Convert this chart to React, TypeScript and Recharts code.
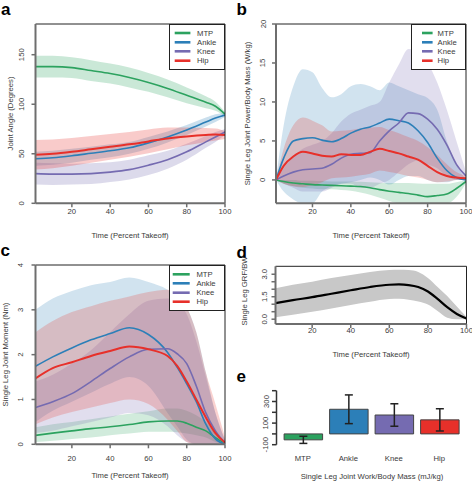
import React from 'react';
import {
  ComposedChart, Area, Line, XAxis, YAxis, ReferenceLine, Legend,
  BarChart, Bar, Cell, ErrorBar,
} from 'recharts';

const FONT = '"Liberation Sans", Arial, Helvetica, sans-serif';
const AXIS = '#6e6e6e';
const BOX = '#222';
const TXT = '#3a3a3a';

const jointNames = ['MTP', 'Ankle', 'Knee', 'Hip'];
const jointColors = ['#2ca25f', '#2c7fb8', '#756bb1', '#e7302a'];
const xTicks = [20, 40, 60, 80, 100];

// ---- Panel a: joint angle (degrees) ----
const angleX = [1, 10, 20, 30, 40, 50, 60, 70, 80, 90, 95, 100];
const angleMtp = [138, 138, 137, 134, 131, 127, 122, 116, 109, 102, 98, 90];
const angleMtpSd = [11, 11, 10.5, 10.5, 10, 10, 9.5, 9, 8, 6, 4.5, 2];
const angleAnkle = [45, 46, 48, 50.5, 53, 56, 61, 67, 74, 82, 86, 89];
const angleAnkleSd = [7, 7, 7, 6.5, 6.5, 6, 6, 5.5, 5, 4.5, 4, 2];
const angleKnee = [30, 29.5, 29.5, 30, 31.5, 34, 38.5, 44, 52, 62, 67, 72];
const angleKneeSd = [11, 11, 10.5, 10.5, 10, 10, 10, 9, 8, 6, 5, 3];
const angleHip = [49, 50, 52, 54.5, 57, 59.5, 62.5, 65.5, 67.5, 69, 69.5, 69];
const angleHipSd = [15, 14.5, 14, 13.5, 13, 12.5, 12, 11, 9, 7, 6, 4];

// ---- Panel b: joint power / body mass (W/kg) ----
const powX = [1, 5, 10, 15, 20, 25, 30, 35, 40, 45, 50, 55, 60, 65, 70, 75, 80, 85, 90, 95, 100];
const powMtp = [0, -0.2, -0.4, -0.5, -0.6, -0.65, -0.7, -0.75, -0.8, -0.85, -1.0, -1.25, -1.45, -1.6, -1.75, -1.95, -2.15, -2.0, -1.8, -1.1, -0.2];
const powMtpLo = [0, -0.5, -0.8, -1.0, -1.1, -1.2, -1.2, -1.3, -1.4, -1.6, -1.9, -2.3, -2.7, -3, -3, -3, -3, -3, -3, -2.2, -0.4];
const powMtpHi = [0, 0, 0, -0.1, -0.1, -0.15, -0.2, -0.2, -0.2, -0.25, -0.3, -0.35, -0.4, -0.4, -0.4, -0.45, -0.5, -0.5, -0.5, -0.3, 0];
const powAnkle = [0, 2.8, 5.0, 5.3, 5.4, 5.1, 4.9, 5.3, 6.0, 6.5, 6.8, 7.3, 7.8, 7.6, 7.3, 6.3, 4.8, 2.8, 1.2, 0.3, 0];
const powAnkleLo = [0, -1.5, -2.5, -3, -3, -1.5, -0.8, -0.5, -0.3, 0, 0.3, 0, -0.6, 0, 0.5, 0.5, 0, -0.3, -0.3, 0, 0];
const powAnkleHi = [0, 7, 12, 14.2, 13.8, 11.8, 10.6, 11, 12, 12.3, 12, 11.5, 12.5, 12, 11.5, 11, 10.5, 9, 5, 2, 0];
const powKnee = [0, 0.5, 1.0, 1.3, 1.4, 1.5, 2.0, 2.8, 3.3, 3.4, 3.5, 5.0, 6.3, 7.3, 8.6, 8.5, 7.8, 6.5, 4.5, 2.0, 0.5];
const powKneeLo = [0, -0.5, -1, -1.5, -1.5, -1.5, -1, -0.5, -0.5, -1, -1, -0.5, 0, 1, 2, 2.5, 2, 1.5, 0.5, 0, 0];
const powKneeHi = [0, 1.5, 3, 4, 4.5, 5, 6, 7.5, 8.5, 9, 9.5, 10, 12.5, 14.8, 16.8, 16.5, 15, 12.5, 9, 5, 1];
const powHip = [0, 1.8, 3.0, 3.6, 3.4, 3.1, 3.0, 3.3, 3.2, 3.2, 3.6, 4.0, 3.7, 3.4, 3.0, 2.6, 1.8, 1.0, 0.5, 0.3, 0.2];
const powHipLo = [0, -0.5, -0.8, -0.9, -0.7, -0.3, 0.2, 0.3, 0.4, 0.6, 0.8, 1.2, 1, 0.8, 0.5, 0.3, 0, -0.3, -0.2, 0, 0];
const powHipHi = [0, 4, 7, 8, 7.6, 7, 6.2, 6.3, 6.4, 6.6, 6.7, 6.8, 6.4, 6, 5.5, 5, 4.2, 3.2, 2, 1, 0.5];

// ---- Panel c: joint moment (Nm) ----
const momX = [1, 10, 20, 30, 40, 50, 60, 70, 75, 80, 85, 90, 95, 100];
const momMtp = [0.2, 0.25, 0.3, 0.35, 0.39, 0.44, 0.5, 0.52, 0.52, 0.47, 0.38, 0.3, 0.15, 0.02];
const momMtpLo = [0.05, 0.08, 0.12, 0.15, 0.2, 0.24, 0.28, 0.28, 0.27, 0.24, 0.2, 0.15, 0.05, 0];
const momMtpHi = [0.38, 0.45, 0.5, 0.56, 0.62, 0.68, 0.74, 0.8, 0.8, 0.75, 0.65, 0.5, 0.3, 0.05];
const momAnkle = [1.74, 1.95, 2.15, 2.33, 2.47, 2.6, 2.45, 2.05, 1.72, 1.35, 0.95, 0.45, 0.12, 0];
const momAnkleLo = [0.5, 0.75, 0.95, 1.15, 1.35, 1.5, 1.3, 0.7, 0.4, 0.1, 0, 0, 0, 0];
const momAnkleHi = [3.0, 3.25, 3.42, 3.55, 3.62, 3.72, 3.62, 3.45, 3.3, 3.05, 2.5, 1.6, 0.7, 0.1];
const momKnee = [0.82, 0.95, 1.13, 1.4, 1.69, 1.95, 2.12, 2.13, 2.02, 1.8, 1.3, 0.7, 0.3, 0.03];
const momKneeLo = [0.25, 0.3, 0.4, 0.5, 0.6, 0.7, 0.65, 0.4, 0.2, 0.05, 0, 0, 0, 0];
const momKneeHi = [1.4, 1.55, 1.8, 2.1, 2.5, 2.9, 3.2, 3.25, 3.15, 2.9, 2.3, 1.5, 0.7, 0.1];
const momHip = [1.47, 1.7, 1.83, 1.97, 2.08, 2.18, 2.12, 1.97, 1.75, 1.4, 1.0, 0.6, 0.25, 0.04];
const momHipLo = [0.45, 0.6, 0.72, 0.82, 0.92, 1.0, 0.9, 0.55, 0.3, 0.05, 0, 0, 0, 0];
const momHipHi = [2.5, 2.75, 2.95, 3.08, 3.2, 3.3, 3.4, 3.45, 3.4, 3.06, 2.5, 1.6, 0.9, 0.15];

// ---- Panel d: GRF / BW ----
const grfX = [1, 10, 20, 30, 40, 50, 60, 65, 70, 75, 80, 85, 90, 95, 100];
const grf = [1.07, 1.27, 1.47, 1.7, 1.93, 2.15, 2.3, 2.32, 2.28, 2.15, 1.85, 1.35, 0.8, 0.35, 0.05];
const grfLo = [0.13, 0.3, 0.5, 0.72, 0.95, 1.17, 1.35, 1.37, 1.3, 1.18, 0.98, 0.55, 0.1, 0, 0];
const grfHi = [2.07, 2.3, 2.5, 2.75, 2.95, 3.15, 3.28, 3.3, 3.28, 3.15, 2.75, 2.15, 1.55, 0.85, 0.15];

// ---- Panel e: joint work / body mass (mJ/kg) ----
const workMean = [-55, 228, 175, 130];
const workSd = [33, 133, 104, 103];

type S = { mean: number[]; lo: number[]; hi: number[] };

function buildRows(xs: number[], series: S[]) {
  return xs.map((x, i) => {
    const r: any = { x };
    series.forEach((s, k) => {
      r['m' + k] = s.mean[i];
      r['b' + k] = [s.lo[i], s.hi[i]];
    });
    return r;
  });
}

const sdSeries = (m: number[], sd: number[]): S => ({
  mean: m,
  lo: m.map((v, i) => v - sd[i]),
  hi: m.map((v, i) => v + sd[i]),
});

const angleRows = buildRows(angleX, [
  sdSeries(angleMtp, angleMtpSd), sdSeries(angleAnkle, angleAnkleSd),
  sdSeries(angleKnee, angleKneeSd), sdSeries(angleHip, angleHipSd),
]);
const powRows = buildRows(powX, [
  { mean: powMtp, lo: powMtpLo, hi: powMtpHi },
  { mean: powAnkle, lo: powAnkleLo, hi: powAnkleHi },
  { mean: powKnee, lo: powKneeLo, hi: powKneeHi },
  { mean: powHip, lo: powHipLo, hi: powHipHi },
]);
const momRows = buildRows(momX, [
  { mean: momMtp, lo: momMtpLo, hi: momMtpHi },
  { mean: momAnkle, lo: momAnkleLo, hi: momAnkleHi },
  { mean: momKnee, lo: momKneeLo, hi: momKneeHi },
  { mean: momHip, lo: momHipLo, hi: momHipHi },
]);
const grfRows = buildRows(grfX, [{ mean: grf, lo: grfLo, hi: grfHi }]);
const workRows = jointNames.map((n, i) => ({ name: n, work: workMean[i], sd: workSd[i] }));

const FS = 7.7;

const makeYTick = (offset: number, labels: number[] | null, fmt: (v: number) => string) => (p: any) => {
  const v = p.payload.value;
  if (labels && !labels.some((l) => Math.abs(l - v) < 1e-9)) return <g />;
  const cx = p.x + 6 - offset;
  return (
    <text x={cx} y={p.y} transform={`rotate(-90 ${cx} ${p.y})`} textAnchor="middle"
      dominantBaseline="central" fontSize={FS} fill={TXT} fontFamily={FONT}>{fmt(v)}</text>
  );
};

const makeXTick = (dy: number) => (p: any) => (
  <text x={p.x} y={p.y + dy} textAnchor="middle" dominantBaseline="central"
    fontSize={FS} fill={TXT} fontFamily={FONT}>{p.payload.value}</text>
);

type LegendCfg = { top: number; left: number; w: number; h: number; lx1: number; lx2: number; tx: number; ry: number[] };

const legendContent = (cfg: LegendCfg) => () => (
  <div style={{ width: cfg.w, height: cfg.h, background: '#fff', border: `1px solid ${BOX}`, boxSizing: 'border-box', position: 'relative' }}>
    <svg width={cfg.w} height={cfg.h} style={{ position: 'absolute', left: -1, top: -1 }}>
      {jointNames.map((n, i) => (
        <g key={n}>
          <line x1={cfg.lx1} x2={cfg.lx2} y1={cfg.ry[i]} y2={cfg.ry[i]} stroke={jointColors[i]} strokeWidth={2.6} />
          <text x={cfg.tx} y={cfg.ry[i]} dominantBaseline="central" fontSize={FS} fill={TXT} fontFamily={FONT}>{n}</text>
        </g>
      ))}
    </svg>
  </div>
);

type PanelProps = {
  left: number; top: number; width: number; height: number;
  margin: { top: number; right: number; left: number; bottom: number };
  yWidth: number; xHeight: number; yDomain: [number, number]; yTicks: number[];
  yLabels: number[] | null; yFmt: (v: number) => string; yOff: number; xDy: number; xMargin?: number;
  rows: any[]; colors: string[]; bandColors: string[]; bandOpacity: number; lineWidth: number[];
  legend?: LegendCfg;
};

function CurvePanel(p: PanelProps) {
  return (
    <div style={{ position: 'absolute', left: p.left, top: p.top }}>
      <ComposedChart width={p.width} height={p.height} data={p.rows} margin={p.margin} style={{ fontFamily: FONT }}>
        <XAxis dataKey="x" type="number" domain={[1, 100]} ticks={xTicks} interval={0} height={p.xHeight}
          axisLine={{ stroke: AXIS, strokeWidth: 2 }} tickLine={{ stroke: AXIS, strokeWidth: 1.5 }}
          tickSize={4} tickMargin={p.xMargin ?? 2} tick={makeXTick(p.xDy)} allowDataOverflow />
        <YAxis type="number" domain={p.yDomain} ticks={p.yTicks} interval={0} width={p.yWidth}
          axisLine={{ stroke: AXIS, strokeWidth: 2 }} tickLine={{ stroke: AXIS, strokeWidth: 1.5 }}
          tickSize={4} tickMargin={2} tick={makeYTick(p.yOff, p.yLabels, p.yFmt)} allowDataOverflow />
        {p.colors.map((c, k) => (
          <Area key={'b' + k} dataKey={'b' + k} type="monotone" stroke="none" fill={p.bandColors[k]}
            fillOpacity={p.bandOpacity} isAnimationActive={false} dot={false} activeDot={false} />
        ))}
        {p.colors.map((c, k) => (
          <Line key={'m' + k} dataKey={'m' + k} type="monotone" stroke={c} strokeWidth={p.lineWidth[k]}
            dot={false} activeDot={false} isAnimationActive={false} />
        ))}
        <ReferenceLine y={p.yDomain[1]} stroke={BOX} strokeWidth={1} />
        <ReferenceLine x={100} stroke={BOX} strokeWidth={1} />
        {p.legend && (
          <Legend layout="vertical" align="center" verticalAlign="middle"
            wrapperStyle={{ top: p.legend.top, left: p.legend.left, width: p.legend.w, height: p.legend.h }}
            content={legendContent(p.legend)} />
        )}
      </ComposedChart>
    </div>
  );
}

const fmtInt = (v: number) => String(v);
const fmt1 = (v: number) => v.toFixed(1);
const lw4 = [1.6, 1.6, 1.6, 2];

function Title({ x, y, text, rotate }: { x: number; y: number; text: string; rotate?: boolean }) {
  return (
    <text x={x} y={y} transform={rotate ? `rotate(-90 ${x} ${y})` : undefined} textAnchor="middle"
      dominantBaseline="central" fontSize={FS} fill={TXT} fontFamily={FONT}>{text}</text>
  );
}

function Letter({ x, y, t }: { x: number; y: number; t: string }) {
  return <text x={x} y={y} fontSize={17} fontWeight="bold" fill="#000" fontFamily={FONT}>{t}</text>;
}

export default function App() {
  return (
    <div style={{ position: 'absolute', left: 0, top: 0, width: 472, height: 481, background: '#fff', overflow: 'hidden' }}>
      {/* a */}
      <CurvePanel left={0} top={0} width={236} height={245} margin={{ top: 24, right: 11, left: 0, bottom: 0 }}
        yWidth={35.5} xHeight={41.7} yDomain={[0, 181]} yTicks={[0, 50, 100, 150]} yLabels={null} yFmt={fmtInt}
        yOff={13.8} xDy={2} rows={angleRows} colors={jointColors} bandColors={jointColors} bandOpacity={0.25}
        lineWidth={lw4}
        legend={{ top: 24, left: 169.3, w: 56.2, h: 46, lx1: 5.7, lx2: 21.4, tx: 28, ry: [9, 18.3, 27.3, 36.7] }} />
      {/* b */}
      <CurvePanel left={236} top={0} width={236} height={245} margin={{ top: 24, right: 6, left: 0, bottom: 0 }}
        yWidth={40} xHeight={41.7} yDomain={[-3, 20]} yTicks={[0, 5, 10, 15, 20]} yLabels={null} yFmt={fmtInt}
        yOff={13} xDy={1.7} rows={powRows} colors={jointColors} bandColors={jointColors} bandOpacity={0.22}
        lineWidth={lw4}
        legend={{ top: 24, left: 174.7, w: 55.8, h: 46, lx1: 11, lx2: 21.6, tx: 26.6, ry: [9, 18.3, 27.3, 36.7] }} />
      {/* c */}
      <CurvePanel left={0} top={245} width={236} height={236} margin={{ top: 20, right: 11, left: 0, bottom: 0 }}
        yWidth={35.5} xHeight={36.7} yDomain={[0, 4]} yTicks={[0, 1, 2, 3, 4]} yLabels={null} yFmt={fmtInt}
        yOff={15} xDy={8} rows={momRows} colors={jointColors} bandColors={jointColors} bandOpacity={0.22}
        lineWidth={lw4}
        legend={{ top: 20, left: 169.3, w: 56.2, h: 45.7, lx1: 3.7, lx2: 20.7, tx: 27.4, ry: [9.3, 18.3, 27.7, 36.7] }} />
      {/* d */}
      <CurvePanel left={236} top={245} width={236} height={125} margin={{ top: 21.3, right: 5.5, left: 0, bottom: 0 }}
        yWidth={39.5} xHeight={46} yDomain={[-0.32, 3.53]} yTicks={[0, 0.5, 1, 1.5, 2, 2.5, 3]} yLabels={[0, 1.5, 3]}
        yFmt={fmt1} yOff={11} xDy={0} xMargin={2} rows={grfRows} colors={['#000']} bandColors={['#c8c8c8']}
        bandOpacity={1} lineWidth={[2.2]} />
      {/* e */}
      <div style={{ position: 'absolute', left: 236, top: 370 }}>
        <BarChart width={236} height={111} data={workRows} margin={{ top: 20.7, right: 9.9, left: 0, bottom: 0 }}
          style={{ fontFamily: FONT }}>
          <XAxis dataKey="name" type="category" interval={0} height={36.3} axisLine={false} tickLine={false}
            tickSize={0} tickMargin={0} padding={{ left: 3.6, right: 0 }} tick={makeXTick(13.8)} />
          <YAxis type="number" domain={[-100, 400]} ticks={[-100, 0, 100, 200, 300, 400]} interval={0} width={40.5}
            axisLine={{ stroke: '#333', strokeWidth: 1.5 }} tickLine={{ stroke: '#333', strokeWidth: 1.5 }}
            tickSize={4.5} tickMargin={1.5} tick={makeYTick(10.5, [-100, 100, 300], fmtInt)} allowDataOverflow />
          <Bar dataKey="work" barSize={38.5} stroke="#444" strokeWidth={1} isAnimationActive={false}>
            {workRows.map((d, i) => <Cell key={d.name} fill={jointColors[i]} />)}
            <ErrorBar dataKey="sd" width={4} stroke="#222" strokeWidth={1.5} />
          </Bar>
        </BarChart>
      </div>
      <svg width={472} height={481} style={{ position: 'absolute', left: 0, top: 0, pointerEvents: 'none' }}>
        <Letter x={1} y={15.4} t="a" />
        <Letter x={236.5} y={15.4} t="b" />
        <Letter x={0.5} y={255.5} t="c" />
        <Letter x={236.5} y={258.3} t="d" />
        <Letter x={236.5} y={382} t="e" />
        <Title x={130} y={235} text="Time (Percent Takeoff)" />
        <Title x={371} y={235} text="Time (Percent Takeoff)" />
        <Title x={130} y={475} text="Time (Percent Takeoff)" />
        <Title x={371} y={354} text="Time (Percent Takeoff)" />
        <Title x={372} y={476.7} text="Single Leg Joint Work/Body Mass (mJ/kg)" />
        <Title x={10.3} y={113.5} text="Joint Angle (Degrees)" rotate />
        <Title x={247} y={113.5} text="Single Leg Joint Power/Body Mass (W/kg)" rotate />
        <Title x={5} y={354.5} text="Single Leg Joint Moment (Nm)" rotate />
        <Title x={244} y={291} text="Single Leg GRF/BW" rotate />
      </svg>
    </div>
  );
}
